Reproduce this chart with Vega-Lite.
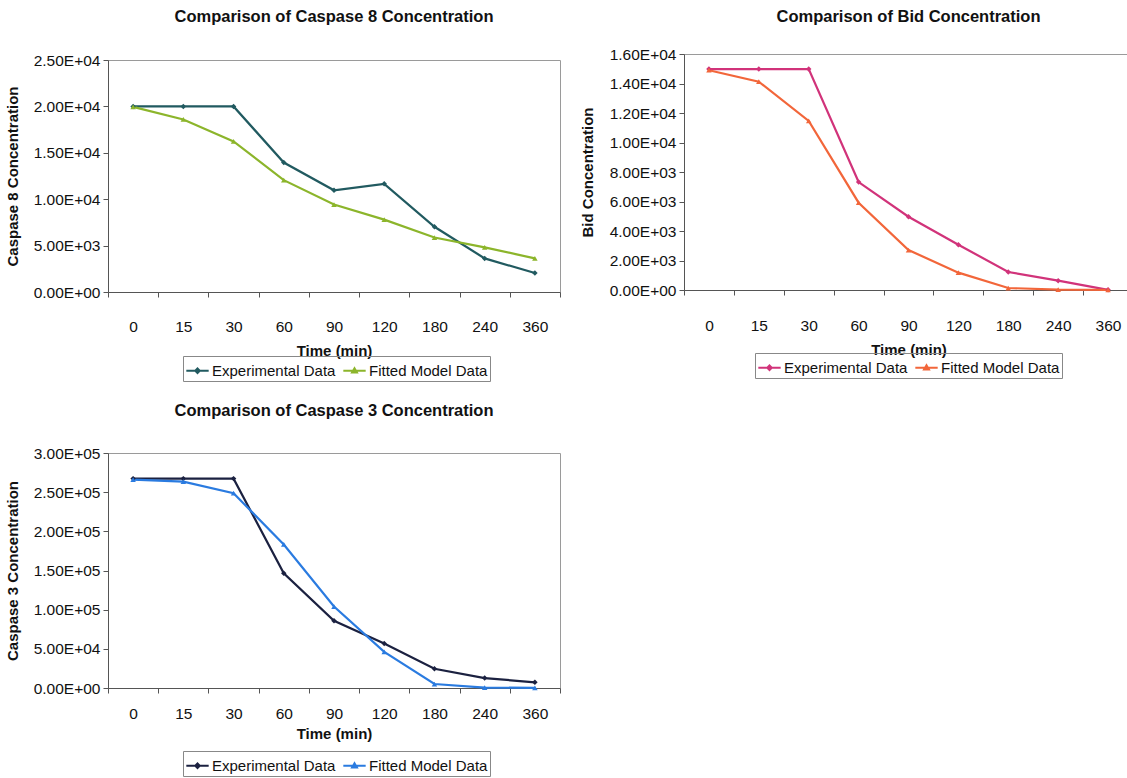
{
  "$schema": "https://vega.github.io/schema/vega-lite/v6.json",
  "background": "white",
  "padding": {"left": 4, "top": 7, "right": 0, "bottom": 0},
  "config": {
    "font": "Liberation Sans",
    "view": {"stroke": "#9a9a9a", "strokeWidth": 1},
    "title": {"fontSize": 16.5, "fontWeight": "bold", "color": "#111", "anchor": "middle"},
    "axis": {"labelFontSize": 15.5, "labelColor": "#111", "titleFontSize": 15, "titleFontWeight": "bold", "titleColor": "#111", "domainColor": "#555", "tickColor": "#555", "grid": false, "labelFont": "Liberation Sans", "titleFont": "Liberation Sans"},
    "legend": {"labelFontSize": 15, "labelColor": "#111", "labelFont": "Liberation Sans"}
  },
  "datasets": {
    "empty": [],
    "c8": [
      {"time": 0, "series": "Experimental Data", "value": 20000},
      {"time": 15, "series": "Experimental Data", "value": 20000},
      {"time": 30, "series": "Experimental Data", "value": 20000},
      {"time": 60, "series": "Experimental Data", "value": 13950},
      {"time": 90, "series": "Experimental Data", "value": 10960},
      {"time": 120, "series": "Experimental Data", "value": 11660},
      {"time": 180, "series": "Experimental Data", "value": 7030},
      {"time": 240, "series": "Experimental Data", "value": 3620},
      {"time": 360, "series": "Experimental Data", "value": 2040},
      {"time": 0, "series": "Fitted Model Data", "value": 19950},
      {"time": 15, "series": "Fitted Model Data", "value": 18590},
      {"time": 30, "series": "Fitted Model Data", "value": 16230},
      {"time": 60, "series": "Fitted Model Data", "value": 12050},
      {"time": 90, "series": "Fitted Model Data", "value": 9420},
      {"time": 120, "series": "Fitted Model Data", "value": 7800},
      {"time": 180, "series": "Fitted Model Data", "value": 5870},
      {"time": 240, "series": "Fitted Model Data", "value": 4810},
      {"time": 360, "series": "Fitted Model Data", "value": 3620}
    ],
    "bid": [
      {"time": 0, "series": "Experimental Data", "value": 14980},
      {"time": 15, "series": "Experimental Data", "value": 14980},
      {"time": 30, "series": "Experimental Data", "value": 14980},
      {"time": 60, "series": "Experimental Data", "value": 7320},
      {"time": 90, "series": "Experimental Data", "value": 4970},
      {"time": 120, "series": "Experimental Data", "value": 3070},
      {"time": 180, "series": "Experimental Data", "value": 1220},
      {"time": 240, "series": "Experimental Data", "value": 630},
      {"time": 360, "series": "Experimental Data", "value": 10},
      {"time": 0, "series": "Fitted Model Data", "value": 14900},
      {"time": 15, "series": "Fitted Model Data", "value": 14120},
      {"time": 30, "series": "Fitted Model Data", "value": 11460},
      {"time": 60, "series": "Fitted Model Data", "value": 5920},
      {"time": 90, "series": "Fitted Model Data", "value": 2710},
      {"time": 120, "series": "Fitted Model Data", "value": 1175},
      {"time": 180, "series": "Fitted Model Data", "value": 135},
      {"time": 240, "series": "Fitted Model Data", "value": 20},
      {"time": 360, "series": "Fitted Model Data", "value": 5}
    ],
    "c3": [
      {"time": 0, "series": "Experimental Data", "value": 267300},
      {"time": 15, "series": "Experimental Data", "value": 267300},
      {"time": 30, "series": "Experimental Data", "value": 267300},
      {"time": 60, "series": "Experimental Data", "value": 146400},
      {"time": 90, "series": "Experimental Data", "value": 85900},
      {"time": 120, "series": "Experimental Data", "value": 56700},
      {"time": 180, "series": "Experimental Data", "value": 24500},
      {"time": 240, "series": "Experimental Data", "value": 12700},
      {"time": 360, "series": "Experimental Data", "value": 7200},
      {"time": 0, "series": "Fitted Model Data", "value": 266000},
      {"time": 15, "series": "Fitted Model Data", "value": 263500},
      {"time": 30, "series": "Fitted Model Data", "value": 248700},
      {"time": 60, "series": "Fitted Model Data", "value": 183200},
      {"time": 90, "series": "Fitted Model Data", "value": 104000},
      {"time": 120, "series": "Fitted Model Data", "value": 46100},
      {"time": 180, "series": "Fitted Model Data", "value": 5100},
      {"time": 240, "series": "Fitted Model Data", "value": 500},
      {"time": 360, "series": "Fitted Model Data", "value": 200}
    ]
  },
  "vconcat": [
    {
      "hconcat": [
        {
          "vconcat": [
            {"width": 452, "height": 1, "data": {"name": "empty"}, "mark": "text", "view": {"stroke": null}},
            {
              "width": 452, "height": 232,
              "title": {"text": "Comparison of Caspase 8 Concentration", "offset": 28},
              "data": {"name": "c8"},
              "encoding": {
                "x": {"field": "time", "type": "ordinal", "sort": [0, 15, 30, 60, 90, 120, 180, 240, 360],
                      "scale": {"type": "band", "paddingInner": 0, "paddingOuter": 0},
                      "axis": {"title": "Time (min)", "labelAngle": 0, "tickBand": "extent", "labelPadding": 22, "tickSize": 5, "titlePadding": 9}},
                "y": {"field": "value", "type": "quantitative", "scale": {"domain": [0, 25000], "nice": false},
                      "axis": {"values": [0, 5000, 10000, 15000, 20000, 25000], "title": "Caspase 8 Concentration", "labelExpr": "replace(format(datum.value, '.2e'), 'e+', 'E+0')", "tickSize": 5, "labelPadding": 3, "titlePadding": 13}},
                "color": {"field": "series", "type": "nominal",
                          "scale": {"domain": ["Experimental Data", "Fitted Model Data"], "range": ["#215a60", "#8cb52b"]},
                          "legend": {"orient": "none", "legendX": 75, "legendY": 349, "direction": "horizontal", "title": null, "strokeColor": "#888", "padding": 2, "columnPadding": 3, "symbolSize": 500, "symbolStrokeWidth": 2, "labelOffset": 2,
                                     "encode": {"symbols": {"update": {"shape": {"signal": "datum.value == 'Experimental Data' ? 'M-1,0H1M0,-0.2L0.2,0L0,0.2L-0.2,0Z' : 'M-1,0H1M0,-0.22L0.22,0.16H-0.22Z'"}, "fill": {"signal": "datum.value == 'Experimental Data' ? '#215a60' : '#8cb52b'"}, "stroke": {"signal": "datum.value == 'Experimental Data' ? '#215a60' : '#8cb52b'"}}}}}}
              },
              "layer": [
                {"mark": {"type": "line", "strokeWidth": 2.2}},
                {"transform": [{"filter": "datum.series == 'Experimental Data'"}], "mark": {"type": "point", "shape": "diamond", "filled": true, "size": 30, "opacity": 1}},
                {"transform": [{"filter": "datum.series == 'Fitted Model Data'"}], "mark": {"type": "point", "shape": "triangle-up", "filled": true, "size": 30, "opacity": 1}}
              ]
            }
          ],
          "spacing": 0
        },
        {
          "vconcat": [
            {"width": 449, "height": 1, "data": {"name": "empty"}, "mark": "text", "view": {"stroke": null}},
            {
              "width": 449, "height": 236,
              "title": {"text": "Comparison of Bid Concentration", "offset": 22},
              "data": {"name": "bid"},
              "encoding": {
                "x": {"field": "time", "type": "ordinal", "sort": [0, 15, 30, 60, 90, 120, 180, 240, 360],
                      "scale": {"type": "band", "paddingInner": 0, "paddingOuter": 0},
                      "axis": {"title": "Time (min)", "labelAngle": 0, "tickBand": "extent", "labelPadding": 23, "tickSize": 5, "titlePadding": 9}},
                "y": {"field": "value", "type": "quantitative", "scale": {"domain": [0, 16000], "nice": false},
                      "axis": {"values": [0, 2000, 4000, 6000, 8000, 10000, 12000, 14000, 16000], "title": "Bid Concentration", "labelExpr": "replace(format(datum.value, '.2e'), 'e+', 'E+0')", "tickSize": 5, "labelPadding": 3, "titlePadding": 14}},
                "color": {"field": "series", "type": "nominal",
                          "scale": {"domain": ["Experimental Data", "Fitted Model Data"], "range": ["#d1337a", "#f2663a"]},
                          "legend": {"orient": "none", "legendX": 71, "legendY": 346, "direction": "horizontal", "title": null, "strokeColor": "#888", "padding": 2, "columnPadding": 3, "symbolSize": 500, "symbolStrokeWidth": 2, "labelOffset": 2,
                                     "encode": {"symbols": {"update": {"shape": {"signal": "datum.value == 'Experimental Data' ? 'M-1,0H1M0,-0.2L0.2,0L0,0.2L-0.2,0Z' : 'M-1,0H1M0,-0.22L0.22,0.16H-0.22Z'"}, "fill": {"signal": "datum.value == 'Experimental Data' ? '#d1337a' : '#f2663a'"}, "stroke": {"signal": "datum.value == 'Experimental Data' ? '#d1337a' : '#f2663a'"}}}}}}
              },
              "layer": [
                {"mark": {"type": "line", "strokeWidth": 2.2}},
                {"transform": [{"filter": "datum.series == 'Experimental Data'"}], "mark": {"type": "point", "shape": "diamond", "filled": true, "size": 30, "opacity": 1}},
                {"transform": [{"filter": "datum.series == 'Fitted Model Data'"}], "mark": {"type": "point", "shape": "triangle-up", "filled": true, "size": 30, "opacity": 1}}
              ]
            }
          ],
          "spacing": 0
        }
      ],
      "spacing": 18,
      "resolve": {"scale": {"color": "independent"}}
    },
    {
      "width": 452, "height": 235,
      "title": {"text": "Comparison of Caspase 3 Concentration", "offset": 27},
      "data": {"name": "c3"},
      "encoding": {
        "x": {"field": "time", "type": "ordinal", "sort": [0, 15, 30, 60, 90, 120, 180, 240, 360],
              "scale": {"type": "band", "paddingInner": 0, "paddingOuter": 0},
              "axis": {"title": "Time (min)", "labelAngle": 0, "tickBand": "extent", "labelPadding": 13, "tickSize": 5, "titlePadding": 5}},
        "y": {"field": "value", "type": "quantitative", "scale": {"domain": [0, 300000], "nice": false},
              "axis": {"values": [0, 50000, 100000, 150000, 200000, 250000, 300000], "title": "Caspase 3 Concentration", "labelExpr": "replace(format(datum.value, '.2e'), 'e+', 'E+0')", "tickSize": 5, "labelPadding": 3, "titlePadding": 13}},
        "color": {"field": "series", "type": "nominal",
                  "scale": {"domain": ["Experimental Data", "Fitted Model Data"], "range": ["#1b2140", "#2a7be0"]},
                  "legend": {"orient": "none", "legendX": 75, "legendY": 298, "direction": "horizontal", "title": null, "strokeColor": "#888", "padding": 2, "columnPadding": 3, "symbolSize": 500, "symbolStrokeWidth": 2, "labelOffset": 2,
                             "encode": {"symbols": {"update": {"shape": {"signal": "datum.value == 'Experimental Data' ? 'M-1,0H1M0,-0.2L0.2,0L0,0.2L-0.2,0Z' : 'M-1,0H1M0,-0.22L0.22,0.16H-0.22Z'"}, "fill": {"signal": "datum.value == 'Experimental Data' ? '#1b2140' : '#2a7be0'"}, "stroke": {"signal": "datum.value == 'Experimental Data' ? '#1b2140' : '#2a7be0'"}}}}}}
      },
      "layer": [
        {"mark": {"type": "line", "strokeWidth": 2.2}},
        {"transform": [{"filter": "datum.series == 'Experimental Data'"}], "mark": {"type": "point", "shape": "diamond", "filled": true, "size": 30, "opacity": 1}},
        {"transform": [{"filter": "datum.series == 'Fitted Model Data'"}], "mark": {"type": "point", "shape": "triangle-up", "filled": true, "size": 30, "opacity": 1}}
      ]
    }
  ],
  "spacing": 20,
  "resolve": {"scale": {"color": "independent"}}
}
